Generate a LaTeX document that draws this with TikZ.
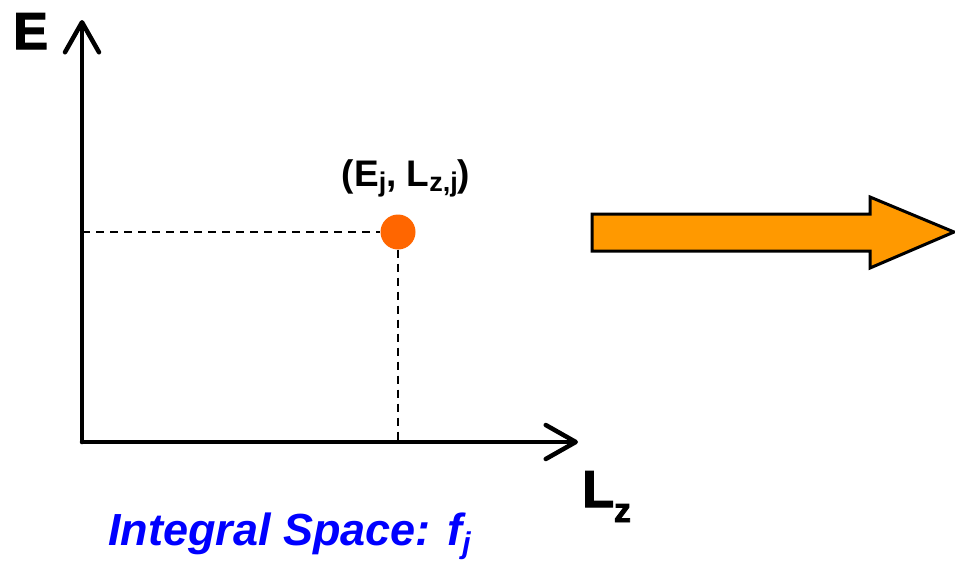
\documentclass[tikz,border=0pt]{standalone}
\usepackage{fontspec}
\setmainfont{Liberation Sans}
\usepackage{tikz}
\usepackage{xcolor}
\usetikzlibrary{arrows.meta, positioning, calc}
\definecolor{DotOrange}{HTML}{FF6600}
\definecolor{ArrowOrange}{HTML}{FF9900}
\definecolor{SpaceBlue}{HTML}{0000FF}
\newfontfamily\heavyfont[FakeBold=2.5]{Liberation Sans Bold}
\tikzset{
    % Axis style
    axisline/.style={
        line width=4.5pt,
        line cap=round,
        -{Straight Barb[length=30pt,width=34pt,line width=4.5pt,round]}
    },
    % Guide lines
    guideline/.style={
        line width=2.3pt,
        dash pattern=on 8pt off 6pt
    },
    % Labels
    axislabel/.style={
        font=\heavyfont\fontsize{52}{52}\selectfont,
        inner sep=0pt
    },
    pointlabel/.style={
        font=\bfseries\fontsize{37}{37}\selectfont,
        inner sep=0pt
    },
    spacelabel/.style={
        font=\bfseries\itshape\fontsize{45}{45}\selectfont,
        text=SpaceBlue,
        inner sep=0pt
    },
    datapoint/.style={
        circle,
        fill=DotOrange,
        minimum size=35pt,
        inner sep=0pt
    },
    bigarrow/.style={
        draw=black,
        line width=3pt,
        fill=ArrowOrange,
        line join=miter
    }
}
\newcommand{\smallsub}[1]{\raisebox{-5pt}{\fontsize{27}{27}\selectfont #1}}
\begin{document}
\begin{tikzpicture}[x=1pt,y=-1pt]
    \useasboundingbox (0,0) rectangle (955,560);

    % Axes
    \coordinate (origin) at (82,442);
    \coordinate (etop) at (82,20);
    \coordinate (lzend) at (578,442);
    \draw[axisline] (origin) -- (etop);
    \draw[axisline] (origin) -- (lzend);

    % Axis labels
    \node[axislabel,anchor=base west] (elabel) at (13,49) {E};
    \node[axislabel,anchor=base west] (lzlabel) at (582,507) {L\raisebox{-15pt}{\fontsize{34}{34}\selectfont z}};

    % Data point
    \node[datapoint] (pt) at (398,232) {};
    \coordinate (ptleft) at (origin |- pt);
    \coordinate (ptdown) at (pt |- origin);
    \draw[guideline] (ptleft) -- (pt.west);
    \draw[guideline] (pt.south) -- (ptdown);
    \node[pointlabel,anchor=base] (ptlabel) at (406,186) {(E\smallsub{j}, L\smallsub{z,j})};

    % Transformation arrow
    \draw[bigarrow] (592,214) -- (870,214) -- (870,197) -- (954,232)
        -- (870,268) -- (870,251) -- (592,251) -- cycle;

    % Caption
    \node[spacelabel,anchor=base west] (space) at (108,545) {Integral Space: f\raisebox{-8pt}{\fontsize{30}{30}\selectfont j}};
\end{tikzpicture}
\end{document}
